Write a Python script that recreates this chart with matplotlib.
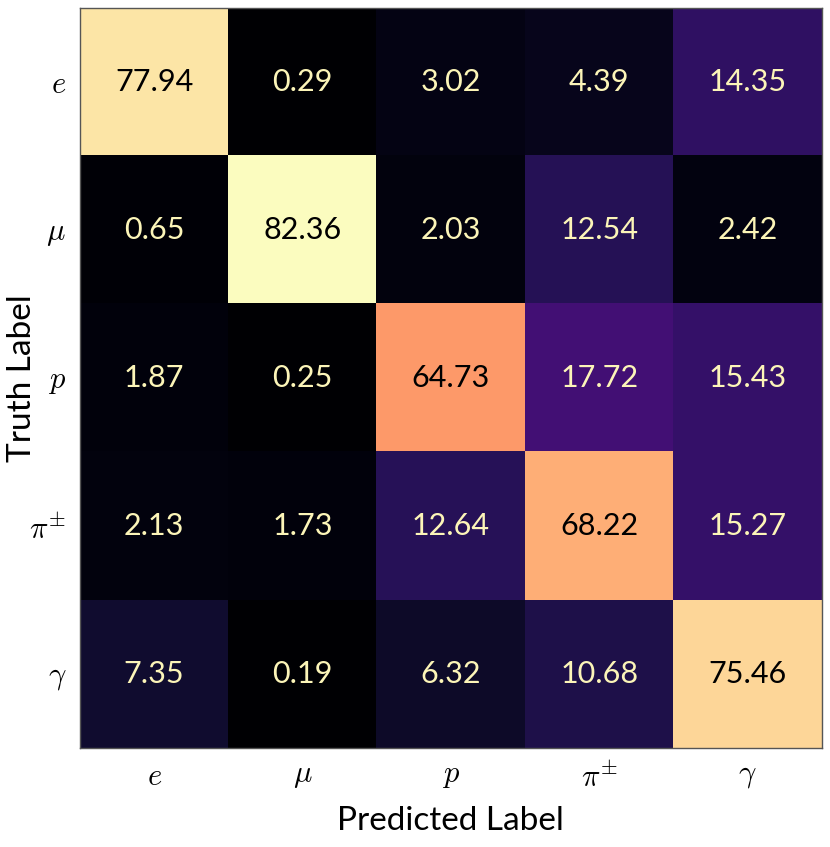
import matplotlib
matplotlib.use('Agg')
import matplotlib.pyplot as plt
import numpy as np

plt.rcParams['font.family'] = ['Lato', 'DejaVu Sans']
plt.rcParams['mathtext.fontset'] = 'cm'

# particle classes (rows = truth, cols = predicted)
labels = [r'$e$', r'$\mu$', r'$p$', r'$\pi^{\pm}$', r'$\gamma$']

row_e = [77.94, 0.29, 3.02, 4.39, 14.35]
row_mu = [0.65, 82.36, 2.03, 12.54, 2.42]
row_p = [1.87, 0.25, 64.73, 17.72, 15.43]
row_pi = [2.13, 1.73, 12.64, 68.22, 15.27]
row_gamma = [7.35, 0.19, 6.32, 10.68, 75.46]

cm = np.array([row_e, row_mu, row_p, row_pi, row_gamma])

fig = plt.figure(figsize=(8.3, 8.47), dpi=100)
ax = fig.add_axes([0.0964, 0.1169, 0.8936, 0.8737])

ax.imshow(cm, cmap='magma', vmin=0, vmax=cm.max(), aspect='auto')

thresh = cm.max() / 2.
for i in range(cm.shape[0]):
    for j in range(cm.shape[1]):
        col = 'black' if cm[i, j] > thresh else '#fcf5b8'
        ax.text(j, i, '{:.2f}'.format(cm[i, j]), ha='center', va='center',
                color=col, fontsize=22)

ax.set_xticks(range(len(labels)))
ax.set_yticks(range(len(labels)))
ax.set_xticklabels(labels, fontsize=22)
ax.set_yticklabels(labels, fontsize=22)
ax.tick_params(length=0, pad=10)

for s in ax.spines.values():
    s.set_color('#555555')
    s.set_linewidth(1)

ax.set_xlabel('Predicted Label', fontsize=24, labelpad=10)
ax.set_ylabel('Truth Label', fontsize=24)
ax.yaxis.set_label_coords(-0.058, 0.5)

plt.savefig('out.png', dpi=100)
